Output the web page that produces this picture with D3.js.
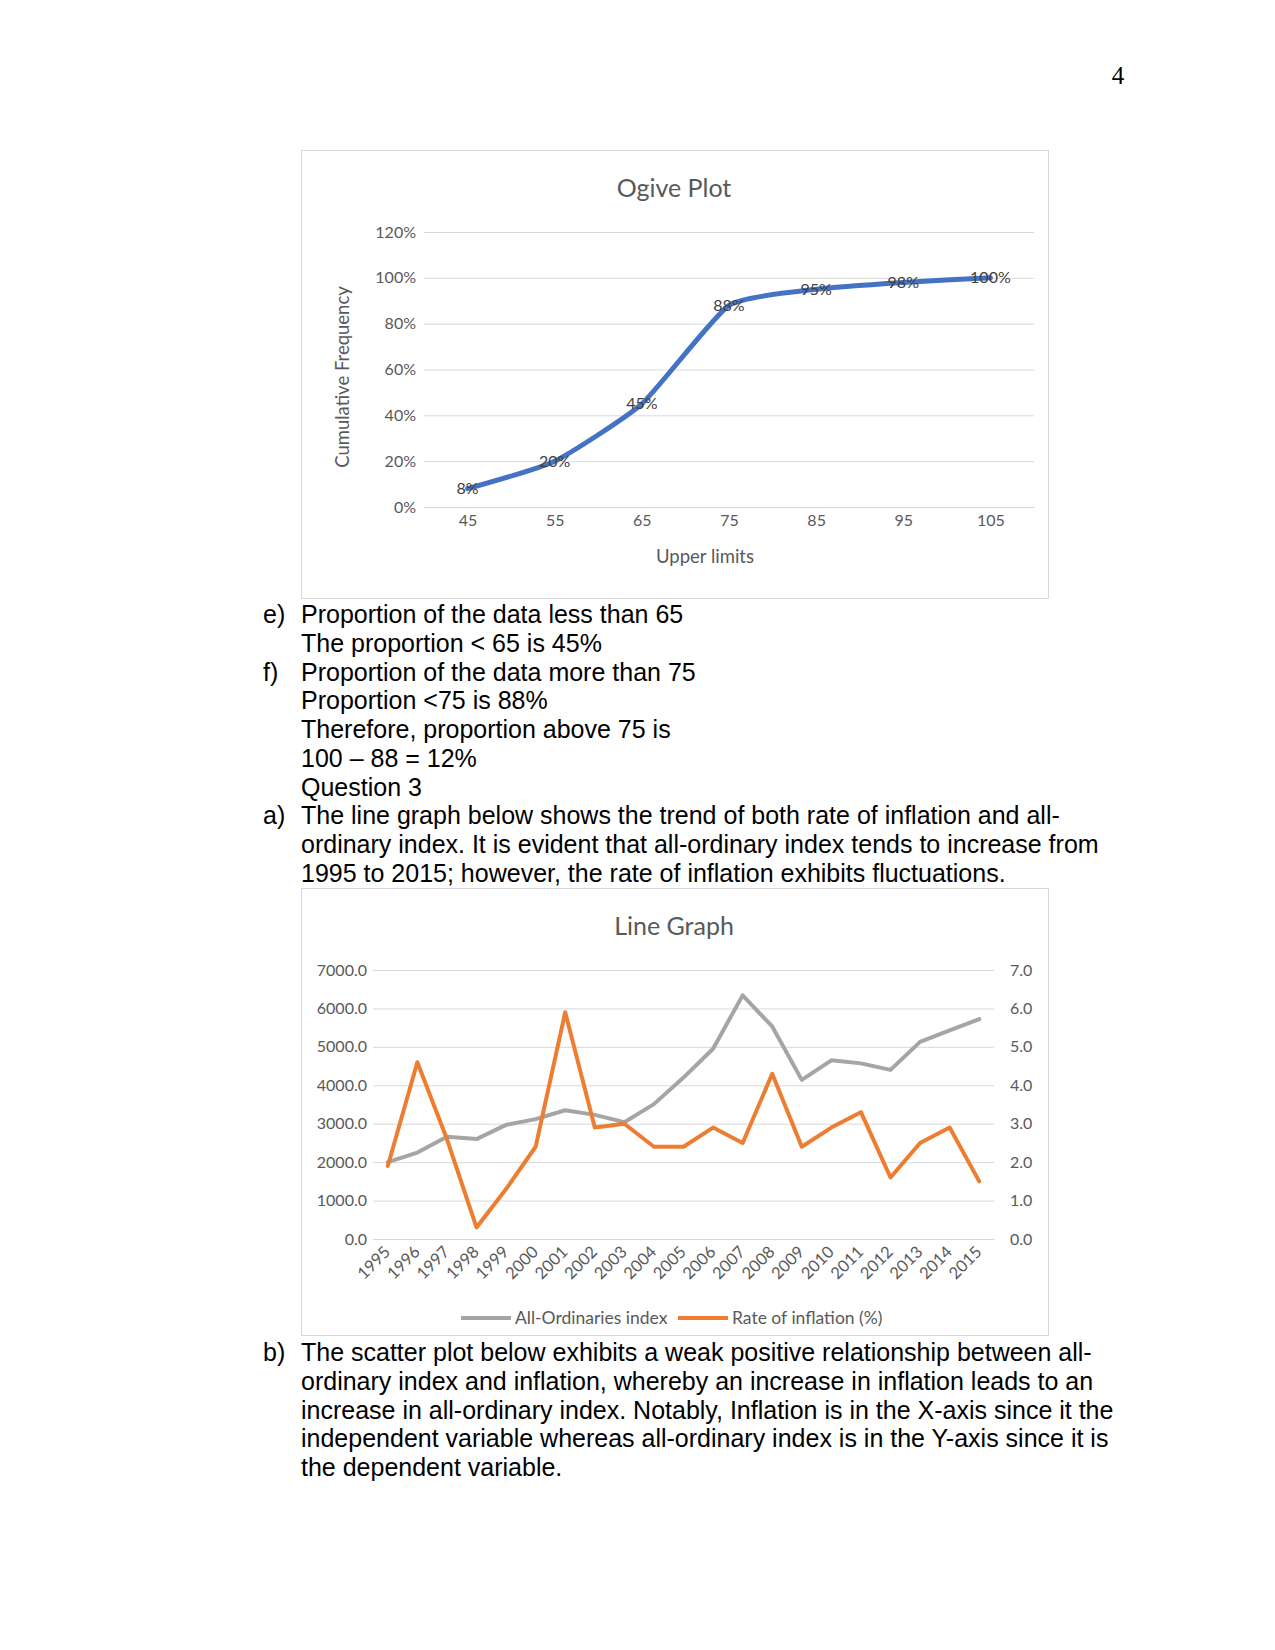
<!DOCTYPE html>
<html>
<head>
<meta charset="utf-8">
<script src="https://cdn.jsdelivr.net/npm/d3@7"></script>
<style>
  body { margin: 0; background: #fff; }
  svg text { font-family: Lato, "Open Sans", sans-serif; }
  svg text.body { font-family: "Liberation Sans", Arial, sans-serif; font-size: 25px; fill: #000; }
</style>
</head>
<body>
<div id="page"></div>
<script>
//--ogive data--//
var upperLimits = ["45", "55", "65", "75", "85", "95", "105"];
var cumFreq = [0.08, 0.20, 0.45, 0.88, 0.95, 0.98, 1.00];
var ogiveTicks = [0, 0.2, 0.4, 0.6, 0.8, 1.0, 1.2];

//--line graph data--//
var years = ["1995", "1996", "1997", "1998", "1999", "2000", "2001", "2002", "2003", "2004", "2005",
             "2006", "2007", "2008", "2009", "2010", "2011", "2012", "2013", "2014", "2015"];
var allOrdinaries = [2000, 2250, 2660, 2600, 2970, 3120, 3350, 3230, 3040, 3510, 4200,
                     4950, 6340, 5530, 4140, 4650, 4570, 4400, 5130, 5430, 5720];
var inflation = [1.9, 4.6, 2.6, 0.3, 1.3, 2.4, 5.9, 2.9, 3.0, 2.4, 2.4,
                 2.9, 2.5, 4.3, 2.4, 2.9, 3.3, 1.6, 2.5, 2.9, 1.5];
var leftTicks = [0, 1000, 2000, 3000, 4000, 5000, 6000, 7000];
var rightTicks = [0, 1, 2, 3, 4, 5, 6, 7];
var seriesNames = ["All-Ordinaries index", "Rate of inflation (%)"];
var seriesColors = ["#a5a5a5", "#ed7d31"];

//--page text--//
var textTop = [
  ["e)", "Proportion of the data less than 65"],
  ["", "The proportion < 65 is 45%"],
  ["f)", "Proportion of the data more than 75"],
  ["", "Proportion <75 is 88%"],
  ["", "Therefore, proportion above 75 is"],
  ["", "100 \u2013 88 = 12%"],
  ["", "Question 3"],
  ["a)", "The line graph below shows the trend of both rate of inflation and all-"],
  ["", "ordinary index. It is evident that all-ordinary index tends to increase from"],
  ["", "1995 to 2015; however, the rate of inflation exhibits fluctuations."]
];
var textBottom = [
  ["b)", "The scatter plot below exhibits a weak positive relationship between all-"],
  ["", "ordinary index and inflation, whereby an increase in inflation leads to an"],
  ["", "increase in all-ordinary index. Notably, Inflation is in the X-axis since it the"],
  ["", "independent variable whereas all-ordinary index is in the Y-axis since it is"],
  ["", "the dependent variable."]
];

var svg = d3.select("#page")
  .append("svg")
    .attr("width", 1275)
    .attr("height", 1650);

// page number
svg.append("text").attr("x", 1118).attr("y", 84).attr("text-anchor", "middle")
  .style("font-family", "'Liberation Serif', serif").style("font-size", "25px").text("4");

function writeLines(lines, y0) {
  lines.forEach(function(l, i) {
    var y = y0 + i * 28.75;
    if (l[0]) svg.append("text").attr("class", "body").attr("x", 263).attr("y", y).text(l[0]);
    svg.append("text").attr("class", "body").attr("x", 301).attr("y", y).text(l[1]);
  });
}
writeLines(textTop, 623);
writeLines(textBottom, 1361);

//--Ogive plot--//
var g1 = svg.append("g");
g1.append("rect").attr("x", 301.5).attr("y", 150.5).attr("width", 747).attr("height", 448)
  .style("fill", "#fff").style("stroke", "#d9d9d9");

var ox = d3.scalePoint().domain(upperLimits).range([424, 1034]).padding(0.5);
var oy = d3.scaleLinear().domain([0, 1.2]).range([507, 232]);

var oyAxis = g1.append("g")
  .attr("transform", "translate(424,0)")
  .call(d3.axisLeft(oy).tickValues(ogiveTicks).tickSize(-610).tickPadding(8).tickFormat(d3.format(".0%")));
oyAxis.select(".domain").remove();
oyAxis.selectAll("line").style("stroke", "#d9d9d9");
oyAxis.selectAll("text").style("font-size", "16px").style("fill", "#595959");

var oxAxis = g1.append("g")
  .attr("transform", "translate(0,507)")
  .call(d3.axisBottom(ox).tickSize(0).tickPadding(8));
oxAxis.select(".domain").style("stroke", "#d9d9d9");
oxAxis.selectAll("text").style("font-size", "16px").style("fill", "#595959");

// smoothed line, kept close to the points like excel does
g1.append("path")
  .datum(cumFreq)
  .attr("d", d3.line()
    .x(function(d, i) { return ox(upperLimits[i]); })
    .y(function(d) { return oy(d); })
    .curve(d3.curveCardinal.tension(0.5)))
  .style("fill", "none")
  .style("stroke", "#4472c4")
  .style("stroke-width", 5)
  .style("stroke-linecap", "round");

g1.append("g").selectAll("text")
  .data(cumFreq)
  .enter()
  .append("text")
    .attr("x", function(d, i) { return ox(upperLimits[i]); })
    .attr("y", function(d) { return oy(d); })
    .attr("dy", "0.35em")
    .attr("text-anchor", "middle")
    .style("font-size", "16px")
    .style("fill", "#404040")
    .text(function(d) { return Math.round(d * 100) + "%"; });

g1.append("text").attr("x", 674).attr("y", 188).attr("dy", "0.35em").attr("text-anchor", "middle")
  .style("font-size", "25px").style("fill", "#595959").text("Ogive Plot");
g1.append("text").attr("x", 705).attr("y", 557).attr("dy", "0.35em").attr("text-anchor", "middle")
  .style("font-size", "18.5px").style("fill", "#595959").text("Upper limits");
g1.append("text").attr("transform", "translate(343,377) rotate(-90)").attr("dy", "0.35em")
  .attr("text-anchor", "middle")
  .style("font-size", "18.5px").style("fill", "#595959").text("Cumulative Frequency");

//--Line graph--//
var g2 = svg.append("g");
g2.append("rect").attr("x", 301.5).attr("y", 888.5).attr("width", 747).attr("height", 447)
  .style("fill", "#fff").style("stroke", "#d9d9d9");

var lx = d3.scalePoint().domain(years).range([373, 994]).padding(0.5);
var ly = d3.scaleLinear().domain([0, 7000]).range([1239, 970]);
var ry = d3.scaleLinear().domain([0, 7]).range([1239, 970]);

var lyAxis = g2.append("g")
  .attr("transform", "translate(373,0)")
  .call(d3.axisLeft(ly).tickValues(leftTicks).tickSize(-621).tickPadding(6).tickFormat(d3.format(".1f")));
lyAxis.select(".domain").remove();
lyAxis.selectAll("line").style("stroke", "#d9d9d9");
lyAxis.selectAll("text").style("font-size", "16px").style("fill", "#595959");

var ryAxis = g2.append("g")
  .attr("transform", "translate(994,0)")
  .call(d3.axisRight(ry).tickValues(rightTicks).tickSize(0).tickPadding(16).tickFormat(d3.format(".1f")));
ryAxis.select(".domain").remove();
ryAxis.selectAll("text").style("font-size", "16px").style("fill", "#595959");

var lxAxis = g2.append("g")
  .attr("transform", "translate(0,1239)")
  .call(d3.axisBottom(lx).tickSize(0));
lxAxis.select(".domain").style("stroke", "#d9d9d9");
lxAxis.selectAll("text")
  .attr("x", 0).attr("y", 0).attr("dy", "0.35em")
  .attr("text-anchor", "end")
  .attr("transform", "translate(-1,10) rotate(-45)")
  .style("font-size", "16.5px").style("fill", "#595959");

var line = d3.line().x(function(d, i) { return lx(years[i]); });

g2.append("path")
  .datum(allOrdinaries)
  .attr("d", line.y(function(d) { return ly(d); }))
  .style("fill", "none").style("stroke", seriesColors[0]).style("stroke-width", 4)
  .style("stroke-linejoin", "round").style("stroke-linecap", "round");

g2.append("path")
  .datum(inflation)
  .attr("d", line.y(function(d) { return ry(d); }))
  .style("fill", "none").style("stroke", seriesColors[1]).style("stroke-width", 4)
  .style("stroke-linejoin", "round").style("stroke-linecap", "round");

g2.append("text").attr("x", 674).attr("y", 926).attr("dy", "0.35em").attr("text-anchor", "middle")
  .style("font-size", "25px").style("fill", "#595959").text("Line Graph");

// legend
var legX = [461, 678];
seriesNames.forEach(function(name, i) {
  g2.append("line").attr("x1", legX[i]).attr("x2", legX[i] + 50).attr("y1", 1318).attr("y2", 1318)
    .style("stroke", seriesColors[i]).style("stroke-width", 4);
  g2.append("text").attr("x", legX[i] + 54).attr("y", 1318).attr("dy", "0.35em")
    .style("font-size", "17.5px").style("fill", "#595959").text(name);
});
</script>
</body>
</html>
